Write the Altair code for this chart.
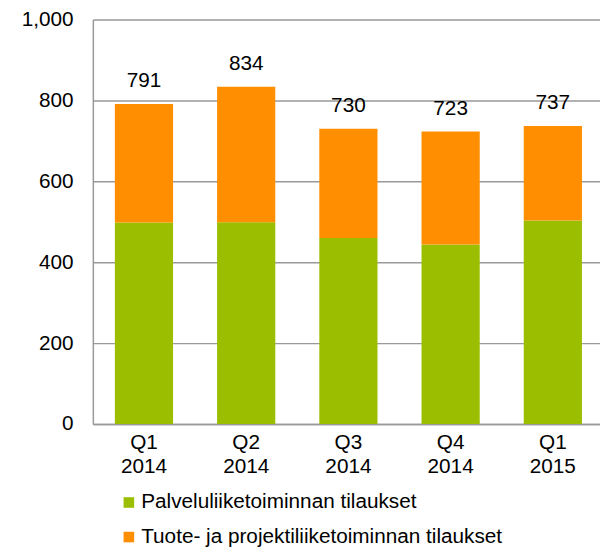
import altair as alt
import pandas as pd

quarters = ["Q1 2014", "Q2 2014", "Q3 2014", "Q4 2014", "Q1 2015"]
services = [498, 499, 460, 444, 503]
totals = [791, 834, 730, 723, 737]
products = [t - s for t, s in zip(totals, services)]
series_names = ["Palveluliiketoiminnan tilaukset", "Tuote- ja projektiliiketoiminnan tilaukset"]
colors = ["#9BBF00", "#FF8F00"]

rows = []
for q, s, p in zip(quarters, services, products):
    rows.append({"quarter": q, "series": series_names[0], "value": s, "ord": 0})
    rows.append({"quarter": q, "series": series_names[1], "value": p, "ord": 1})
df = pd.DataFrame(rows)
tot_df = pd.DataFrame({"quarter": quarters, "total": totals})

FONT = "Liberation Sans"
FS = 21

x_scale = alt.Scale(range=[0, 518])

x_enc = alt.X("quarter:N", sort=quarters, title=None, scale=x_scale,
              axis=alt.Axis(labelExpr="split(datum.label, ' ')", labelAngle=0,
                            labelFontSize=FS, labelColor="#000000", labelFont=FONT,
                            labelLineHeight=24, labelPadding=8, labelBaseline="top",
                            ticks=False, domainColor="#999999", domainWidth=1.5))

bars = alt.Chart(df).mark_bar(size=59).encode(
    x=x_enc,
    y=alt.Y("value:Q", stack="zero", title=None,
            scale=alt.Scale(domain=[0, 1000], nice=False),
            axis=alt.Axis(values=[0, 200, 400, 600, 800, 1000], format=",d",
                          labelFontSize=FS, labelColor="#000000", labelFont=FONT,
                          ticks=False, labelPadding=20, gridColor="#999999",
                          gridWidth=1.5, domainColor="#999999", domainWidth=1.5)),
    color=alt.Color("series:N", sort=series_names,
                    scale=alt.Scale(domain=series_names, range=colors),
                    legend=alt.Legend(title=None, orient="none", legendX=26, legendY=479,
                                      direction="vertical", symbolType="square",
                                      symbolSize=115, symbolStrokeWidth=0,
                                      labelFontSize=FS, labelFont=FONT, labelColor="#000000",
                                      labelOffset=2, rowPadding=13, padding=0,
                                      labelLimit=600)),
    order=alt.Order("ord:Q"),
)

labels = alt.Chart(tot_df).mark_text(dy=-23, baseline="middle", fontSize=FS,
                                     font=FONT, color="#000000").encode(
    x=alt.X("quarter:N", sort=quarters, scale=x_scale),
    y=alt.Y("total:Q"),
    text=alt.Text("total:Q"),
)

chart = alt.layer(bars, labels).properties(
    width=514, height=410,
    autosize=alt.AutoSizeParams(type="none"),
    padding={"left": 86, "top": 8, "right": 0, "bottom": 125},
).configure_view(stroke=None).configure_axis(grid=True).configure_axisX(grid=False)

chart.save("out.html", embed_options={"renderer": "svg", "actions": False})
